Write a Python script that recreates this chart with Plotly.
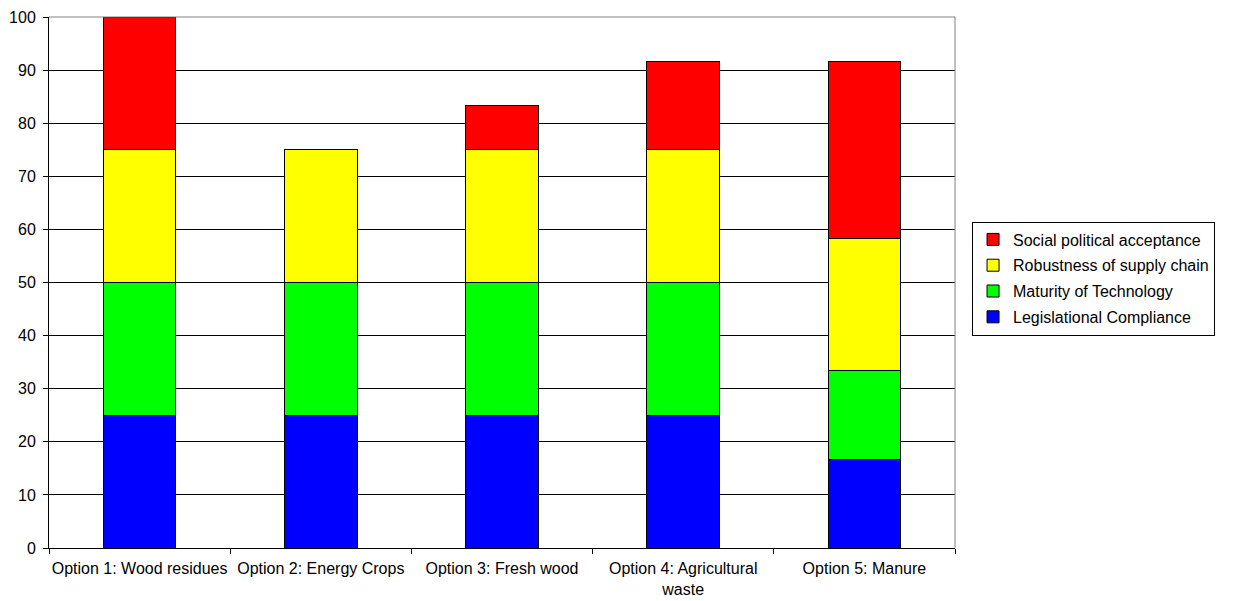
import plotly.graph_objects as go

# Categories and stacked scores per criterion
options = [
    "Option 1: Wood residues",
    "Option 2: Energy Crops",
    "Option 3: Fresh wood",
    "Option 4: Agricultural<br>waste",
    "Option 5: Manure",
]
legislational = [25, 25, 25, 25, 16.67]
maturity = [25, 25, 25, 25, 16.67]
robustness = [25, 25, 25, 25, 25]
social = [25, 0, 8.33, 16.67, 33.33]

# (name, values, colour, legend rank) — stacked bottom to top, listed top to bottom
series = [
    ("Legislational Compliance", legislational, "#0000FF", 4),
    ("Maturity of Technology", maturity, "#00FF00", 3),
    ("Robustness of supply chain", robustness, "#FFFF00", 2),
    ("Social political acceptance", social, "#FF0000", 1),
]

font = "Liberation Sans, Arial, sans-serif"

fig = go.Figure()
for name, vals, color, rank in series:
    fig.add_trace(go.Bar(
        x=options, y=vals, name=name, legendgroup=name, legendrank=rank,
        marker=dict(color=color, line=dict(color="black", width=1)),
        width=0.4,
    ))

fig.update_layout(
    barmode="stack",
    width=1236, height=601,
    margin=dict(l=49, r=281, t=17, b=53, autoexpand=False),
    paper_bgcolor="white", plot_bgcolor="white",
    font=dict(family=font, size=16, color="black"),
    showlegend=True,
    legend=dict(
        traceorder="grouped",
        x=1.0188, xanchor="left", y=0.5075, yanchor="middle",
        bgcolor="white", bordercolor="black", borderwidth=1,
        font=dict(family=font, size=16, color="black"),
        tracegroupgap=2, itemwidth=30,
    ),
    xaxis=dict(
        type="category", tickson="boundaries", ticks="outside", ticklen=5,
        tickcolor="black", showline=True, linecolor="black", linewidth=1,
        showgrid=False, tickfont=dict(size=16), tickangle=0,
        ticklabelstandoff=6,
    ),
    yaxis=dict(
        range=[0, 100], dtick=10, ticks="outside", ticklen=5, tickcolor="black",
        showline=True, linecolor="black", linewidth=1,
        showgrid=True, gridcolor="black", gridwidth=1, zeroline=False,
        tickfont=dict(size=16), ticklabelstandoff=4,
    ),
)

# Grey frame on the top and right of the plotting area
fig.add_shape(type="line", xref="x domain", yref="y domain",
              x0=0, x1=1, y0=1, y1=1, line=dict(color="#808080", width=1))
fig.add_shape(type="line", xref="x domain", yref="y domain",
              x0=1, x1=1, y0=0, y1=1, line=dict(color="#808080", width=1))

fig.write_html("out.html")
